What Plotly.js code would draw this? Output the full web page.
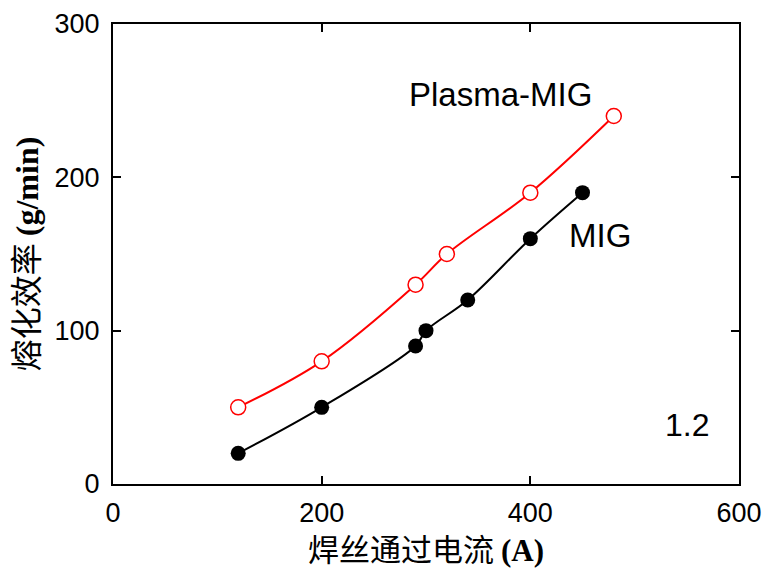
<!DOCTYPE html>
<html>
<head>
<meta charset="utf-8">
<script src="https://cdn.plot.ly/plotly-3.0.1.min.js"></script>
<style>html,body{margin:0;padding:0;background:#fff;}#chart{width:767px;height:570px;}</style>
</head>
<body>
<div id="chart"></div>
<script>
// Data
const plasmaCurrent = [120, 200, 290, 320, 400, 480];
const plasmaRate    = [50, 80, 130, 150, 190, 240];
const migCurrent    = [120, 200, 290, 300, 340, 400, 450];
const migRate       = [20, 50, 90, 100, 120, 160, 190];
const xTicks = [0, 200, 400, 600];
const yTicks = [0, 100, 200, 300];
const seriesNames = ["Plasma-MIG", "MIG"];
const wireLabel = "1.2";

const traces = [
  {
    x: plasmaCurrent, y: plasmaRate, name: seriesNames[0],
    type: 'scatter', mode: 'lines+markers',
    line: {color: '#ff0000', width: 2, shape: 'spline', smoothing: 1},
    marker: {symbol: 'circle', size: 15, color: '#ffffff', line: {color: '#ff0000', width: 1.5}}
  },
  {
    x: migCurrent, y: migRate, name: seriesNames[1],
    type: 'scatter', mode: 'lines+markers',
    line: {color: '#000000', width: 2, shape: 'spline', smoothing: 1},
    marker: {symbol: 'circle', size: 15, color: '#000000'}
  }
];

const axisCommon = {
  showline: true, linecolor: '#000', linewidth: 2, mirror: 'ticks',
  ticks: 'inside', ticklen: 8, tickwidth: 2, tickcolor: '#000',
  showgrid: false, zeroline: false,
  tickfont: {family: 'Liberation Sans, Arial, sans-serif', size: 27, color: '#000'}
};

const layout = {
  width: 767, height: 570,
  margin: {l: 113, r: 28, t: 24, b: 86},
  paper_bgcolor: '#fff', plot_bgcolor: '#fff',
  showlegend: false,
  xaxis: Object.assign({}, axisCommon, {
    range: [0, 600], tickvals: xTicks, ticktext: xTicks.map(String),
    ticklabelstandoff: 4,
    title: {
      text: '焊丝通过电流 <span style="font-family:Liberation Serif, Times New Roman, serif;font-weight:bold">(A)</span>',
      font: {family: 'Noto Sans CJK SC, sans-serif', size: 31, color: '#000'},
      standoff: 12
    }
  }),
  yaxis: Object.assign({}, axisCommon, {
    range: [0, 300], tickvals: yTicks, ticktext: yTicks.map(String),
    ticklabelstandoff: 6,
    title: {
      text: '熔化效率 <span style="font-family:Liberation Serif, Times New Roman, serif;font-weight:bold">(g/min)</span>',
      font: {family: 'Noto Sans CJK SC, sans-serif', size: 32, color: '#000'},
      standoff: 6
    }
  }),
  annotations: [
    {x: 371, y: 254, xref: 'x', yref: 'y', text: seriesNames[0], showarrow: false,
     font: {family: 'Liberation Sans, Arial, sans-serif', size: 33, color: '#000'}},
    {x: 467, y: 162, xref: 'x', yref: 'y', text: seriesNames[1], showarrow: false,
     font: {family: 'Liberation Sans, Arial, sans-serif', size: 33, color: '#000'}},
    {x: 550, y: 38.5, xref: 'x', yref: 'y', text: wireLabel, showarrow: false,
     font: {family: 'Liberation Sans, Arial, sans-serif', size: 32, color: '#000'}}
  ]
};

Plotly.newPlot('chart', traces, layout, {displayModeBar: false, staticPlot: true});
</script>
</body>
</html>
